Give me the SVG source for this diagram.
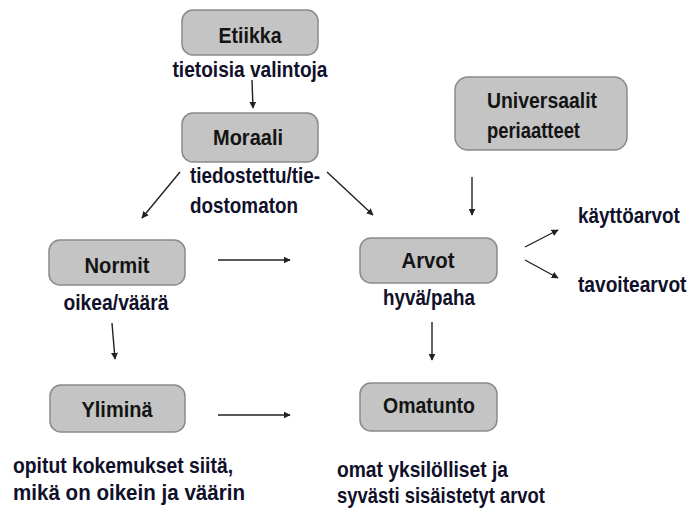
<svg xmlns="http://www.w3.org/2000/svg" width="691" height="515" viewBox="0 0 691 515">
<style>
.box{fill:#c4c4c4;stroke:#8a8a8a;stroke-width:1.5}
.lbl{font-family:"Liberation Sans Narrow","Liberation Sans",Arial,sans-serif;font-weight:bold;font-size:22px;fill:#141414}
.sub{font-family:"Liberation Sans Narrow","Liberation Sans",Arial,sans-serif;font-weight:bold;font-size:22px;fill:#10102a}
.conn line{stroke:#222;stroke-width:1.4;marker-end:url(#ah)}
</style>
<defs>
<marker id="ah" viewBox="0 0 10 10" refX="9" refY="5" markerWidth="7" markerHeight="7" markerUnits="userSpaceOnUse" orient="auto">
<path d="M0,0 L10,5 L0,10 z" fill="#222"/>
</marker>
</defs>
<rect width="691" height="515" fill="#fff"/>

<g id="etiikka">
<rect class="box" x="182" y="10" width="136" height="45" rx="11"/>
<text class="lbl" x="250" y="43" text-anchor="middle" textLength="63" lengthAdjust="spacingAndGlyphs">Etiikka</text>
<text class="sub" x="250" y="77" text-anchor="middle" textLength="155" lengthAdjust="spacingAndGlyphs">tietoisia valintoja</text>
</g>

<g id="moraali">
<rect class="box" x="182" y="113" width="136" height="49" rx="11"/>
<text class="lbl" x="248" y="145" text-anchor="middle" textLength="70" lengthAdjust="spacingAndGlyphs">Moraali</text>
<text class="sub" x="190" y="183" textLength="130" lengthAdjust="spacingAndGlyphs">tiedostettu/tie-</text>
<text class="sub" x="190" y="213" textLength="108" lengthAdjust="spacingAndGlyphs">dostomaton</text>
</g>

<g id="universaalit">
<rect class="box" x="455" y="77" width="172" height="73" rx="13"/>
<text class="lbl" x="487" y="108" textLength="110" lengthAdjust="spacingAndGlyphs">Universaalit</text>
<text class="lbl" x="487" y="138" textLength="93" lengthAdjust="spacingAndGlyphs">periaatteet</text>
</g>

<g id="normit">
<rect class="box" x="49" y="240" width="136" height="45" rx="11"/>
<text class="lbl" x="117" y="273" text-anchor="middle" textLength="65" lengthAdjust="spacingAndGlyphs">Normit</text>
<text class="sub" x="116" y="310" text-anchor="middle" textLength="105" lengthAdjust="spacingAndGlyphs">oikea/väärä</text>
</g>

<g id="arvot">
<rect class="box" x="360" y="238" width="137" height="45" rx="11"/>
<text class="lbl" x="428" y="268" text-anchor="middle" textLength="53" lengthAdjust="spacingAndGlyphs">Arvot</text>
<text class="sub" x="429" y="305" text-anchor="middle" textLength="92" lengthAdjust="spacingAndGlyphs">hyvä/paha</text>
</g>

<g id="kayttoarvot">
<text class="sub" transform="translate(578,223) scale(0.86,1)">käyttöarvot</text>
</g>
<g id="tavoitearvot">
<text class="sub" transform="translate(578,292) scale(0.87,1)">tavoitearvot</text>
</g>

<g id="ylimina">
<rect class="box" x="50" y="385" width="135" height="47" rx="11"/>
<text class="lbl" x="117" y="417" text-anchor="middle" textLength="71" lengthAdjust="spacingAndGlyphs">Yliminä</text>
<text class="sub" x="13" y="473" textLength="220" lengthAdjust="spacingAndGlyphs">opitut kokemukset siitä,</text>
<text class="sub" x="13" y="500" textLength="232" lengthAdjust="spacingAndGlyphs">mikä on oikein ja väärin</text>
</g>

<g id="omatunto">
<rect class="box" x="360" y="383" width="137" height="48" rx="11"/>
<text class="lbl" x="429" y="413" text-anchor="middle" textLength="92" lengthAdjust="spacingAndGlyphs">Omatunto</text>
<text class="sub" x="337" y="477" textLength="171" lengthAdjust="spacingAndGlyphs">omat yksilölliset ja</text>
<text class="sub" x="337" y="503" textLength="208" lengthAdjust="spacingAndGlyphs">syvästi sisäistetyt arvot</text>
</g>

<g id="connectors" class="conn">
<line x1="252" y1="80" x2="253" y2="108"/>
<line x1="180" y1="172" x2="142" y2="218"/>
<line x1="327" y1="172" x2="373" y2="215"/>
<line x1="472" y1="177" x2="472" y2="215"/>
<line x1="218" y1="260" x2="290" y2="260"/>
<line x1="525" y1="247" x2="558" y2="230"/>
<line x1="525" y1="260" x2="558" y2="278"/>
<line x1="112" y1="323" x2="115" y2="359"/>
<line x1="432" y1="322" x2="432" y2="360"/>
<line x1="218" y1="415" x2="290" y2="415"/>
</g>
</svg>
